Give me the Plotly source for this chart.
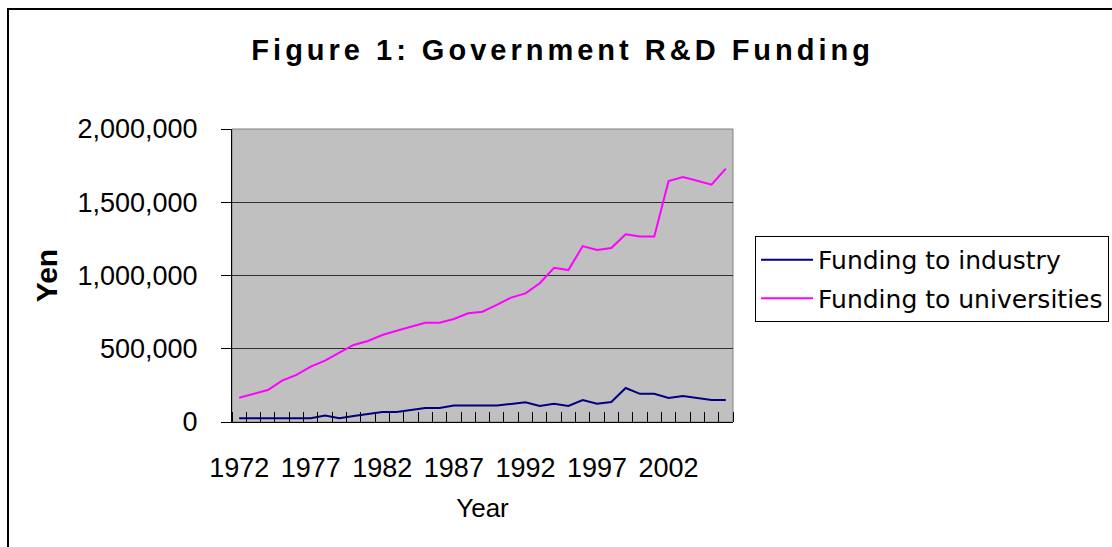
import plotly.graph_objects as go

# ---- data ----
years = [1972, 1973, 1974, 1975, 1976, 1977, 1978, 1979, 1980, 1981,
         1982, 1983, 1984, 1985, 1986, 1987, 1988, 1989, 1990, 1991,
         1992, 1993, 1994, 1995, 1996, 1997, 1998, 1999, 2000, 2001,
         2002, 2003, 2004, 2005, 2006]

funding_industry = [26000, 26000, 26000, 26000, 26000, 26000, 44000, 26000, 41000, 56000,
                    68000, 68000, 83000, 96000, 96000, 112000, 112000, 112000, 112000, 123000,
                    135000, 110000, 125000, 110000, 150000, 125000, 137000, 232000, 192000, 192000,
                    164000, 178000, 164000, 150000, 150000]

funding_universities = [166000, 191000, 218000, 282000, 321000, 378000, 419000, 473000, 526000, 553000,
                        594000, 623000, 653000, 678000, 678000, 703000, 742000, 753000, 799000, 849000,
                        878000, 947000, 1053000, 1037000, 1201000, 1174000, 1188000, 1281000, 1267000, 1267000,
                        1645000, 1672000, 1647000, 1620000, 1729000]

label_years = [1972, 1977, 1982, 1987, 1992, 1997, 2002]
y_ticks = [0, 500000, 1000000, 1500000, 2000000]

ARIAL = "Liberation Sans, Arial, sans-serif"
DEJAVU = "DejaVu Sans, sans-serif"

fig = go.Figure()
fig.add_trace(go.Scatter(x=years, y=funding_industry, mode="lines",
                         name="Funding to industry", legendgroup="a",
                         line=dict(color="#000080", width=2)))
fig.add_trace(go.Scatter(x=years, y=funding_universities, mode="lines",
                         name="Funding to universities", legendgroup="b",
                         line=dict(color="#FF00FF", width=2)))

fig.update_layout(
    width=1112, height=547,
    margin=dict(l=232, r=379, t=129, b=125, pad=0, autoexpand=False),
    paper_bgcolor="white",
    plot_bgcolor="#C0C0C0",
    title=dict(text="<b>Figure 1: Government R&D Funding</b>",
               font=dict(family=ARIAL, size=29, color="black"),
               x=0.506, xref="container", xanchor="center",
               y=1 - 50 / 547, yref="container", yanchor="middle"),
    showlegend=True,
    legend=dict(x=1.044, y=0.635, xanchor="left", yanchor="top",
                bgcolor="white", bordercolor="black", borderwidth=1,
                font=dict(family=DEJAVU, size=25, color="black"),
                itemwidth=52,
                traceorder="grouped", tracegroupgap=3),
    xaxis=dict(
        range=[1971.5, 2006.5],
        tickmode="array", tickvals=label_years, ticktext=[str(v) for v in label_years],
        ticks="", showgrid=False, zeroline=False,
        showline=True, linecolor="black", linewidth=1,
        tickfont=dict(family=ARIAL, size=27, color="black"),
        ticklabelstandoff=22,
        minor=dict(tickmode="linear", tick0=1971.5, dtick=1, ticks="inside",
                   ticklen=10, tickcolor="black", tickwidth=1, showgrid=False),
        title=dict(text="Year", font=dict(family=ARIAL, size=26, color="black"), standoff=16),
    ),
    yaxis=dict(
        range=[0, 2000000],
        tickmode="array", tickvals=y_ticks, tickformat=",",
        ticks="outside", ticklen=10, tickcolor="black", tickwidth=1,
        showgrid=True, gridcolor="#303030", gridwidth=1, zeroline=False,
        showline=True, linecolor="black", linewidth=1,
        tickfont=dict(family=ARIAL, size=27, color="black"),
        ticklabelstandoff=18,
        title=dict(text="<b>Yen</b>", font=dict(family=ARIAL, size=30, color="black"), standoff=10),
    ),
    shapes=[
        # plot-area frame
        dict(type="rect", xref="paper", yref="paper", x0=0, x1=1, y0=0, y1=1,
             line=dict(color="#808080", width=1), layer="below"),
        # outer chart border
        dict(type="rect", xref="paper", yref="paper",
             x0=(8 - 232) / 501, x1=2.0, y0=-1.0, y1=(422 - 9) / 293,
             line=dict(color="black", width=2)),
    ],
)

post = ("var s=document.createElement('style');"
        "s.innerHTML='html,body{margin:0;padding:0;overflow:hidden;} .gtitle{letter-spacing:4px;}';"
        "document.head.appendChild(s);")
fig.write_html("out.html", post_script=post, config={"displayModeBar": False})
